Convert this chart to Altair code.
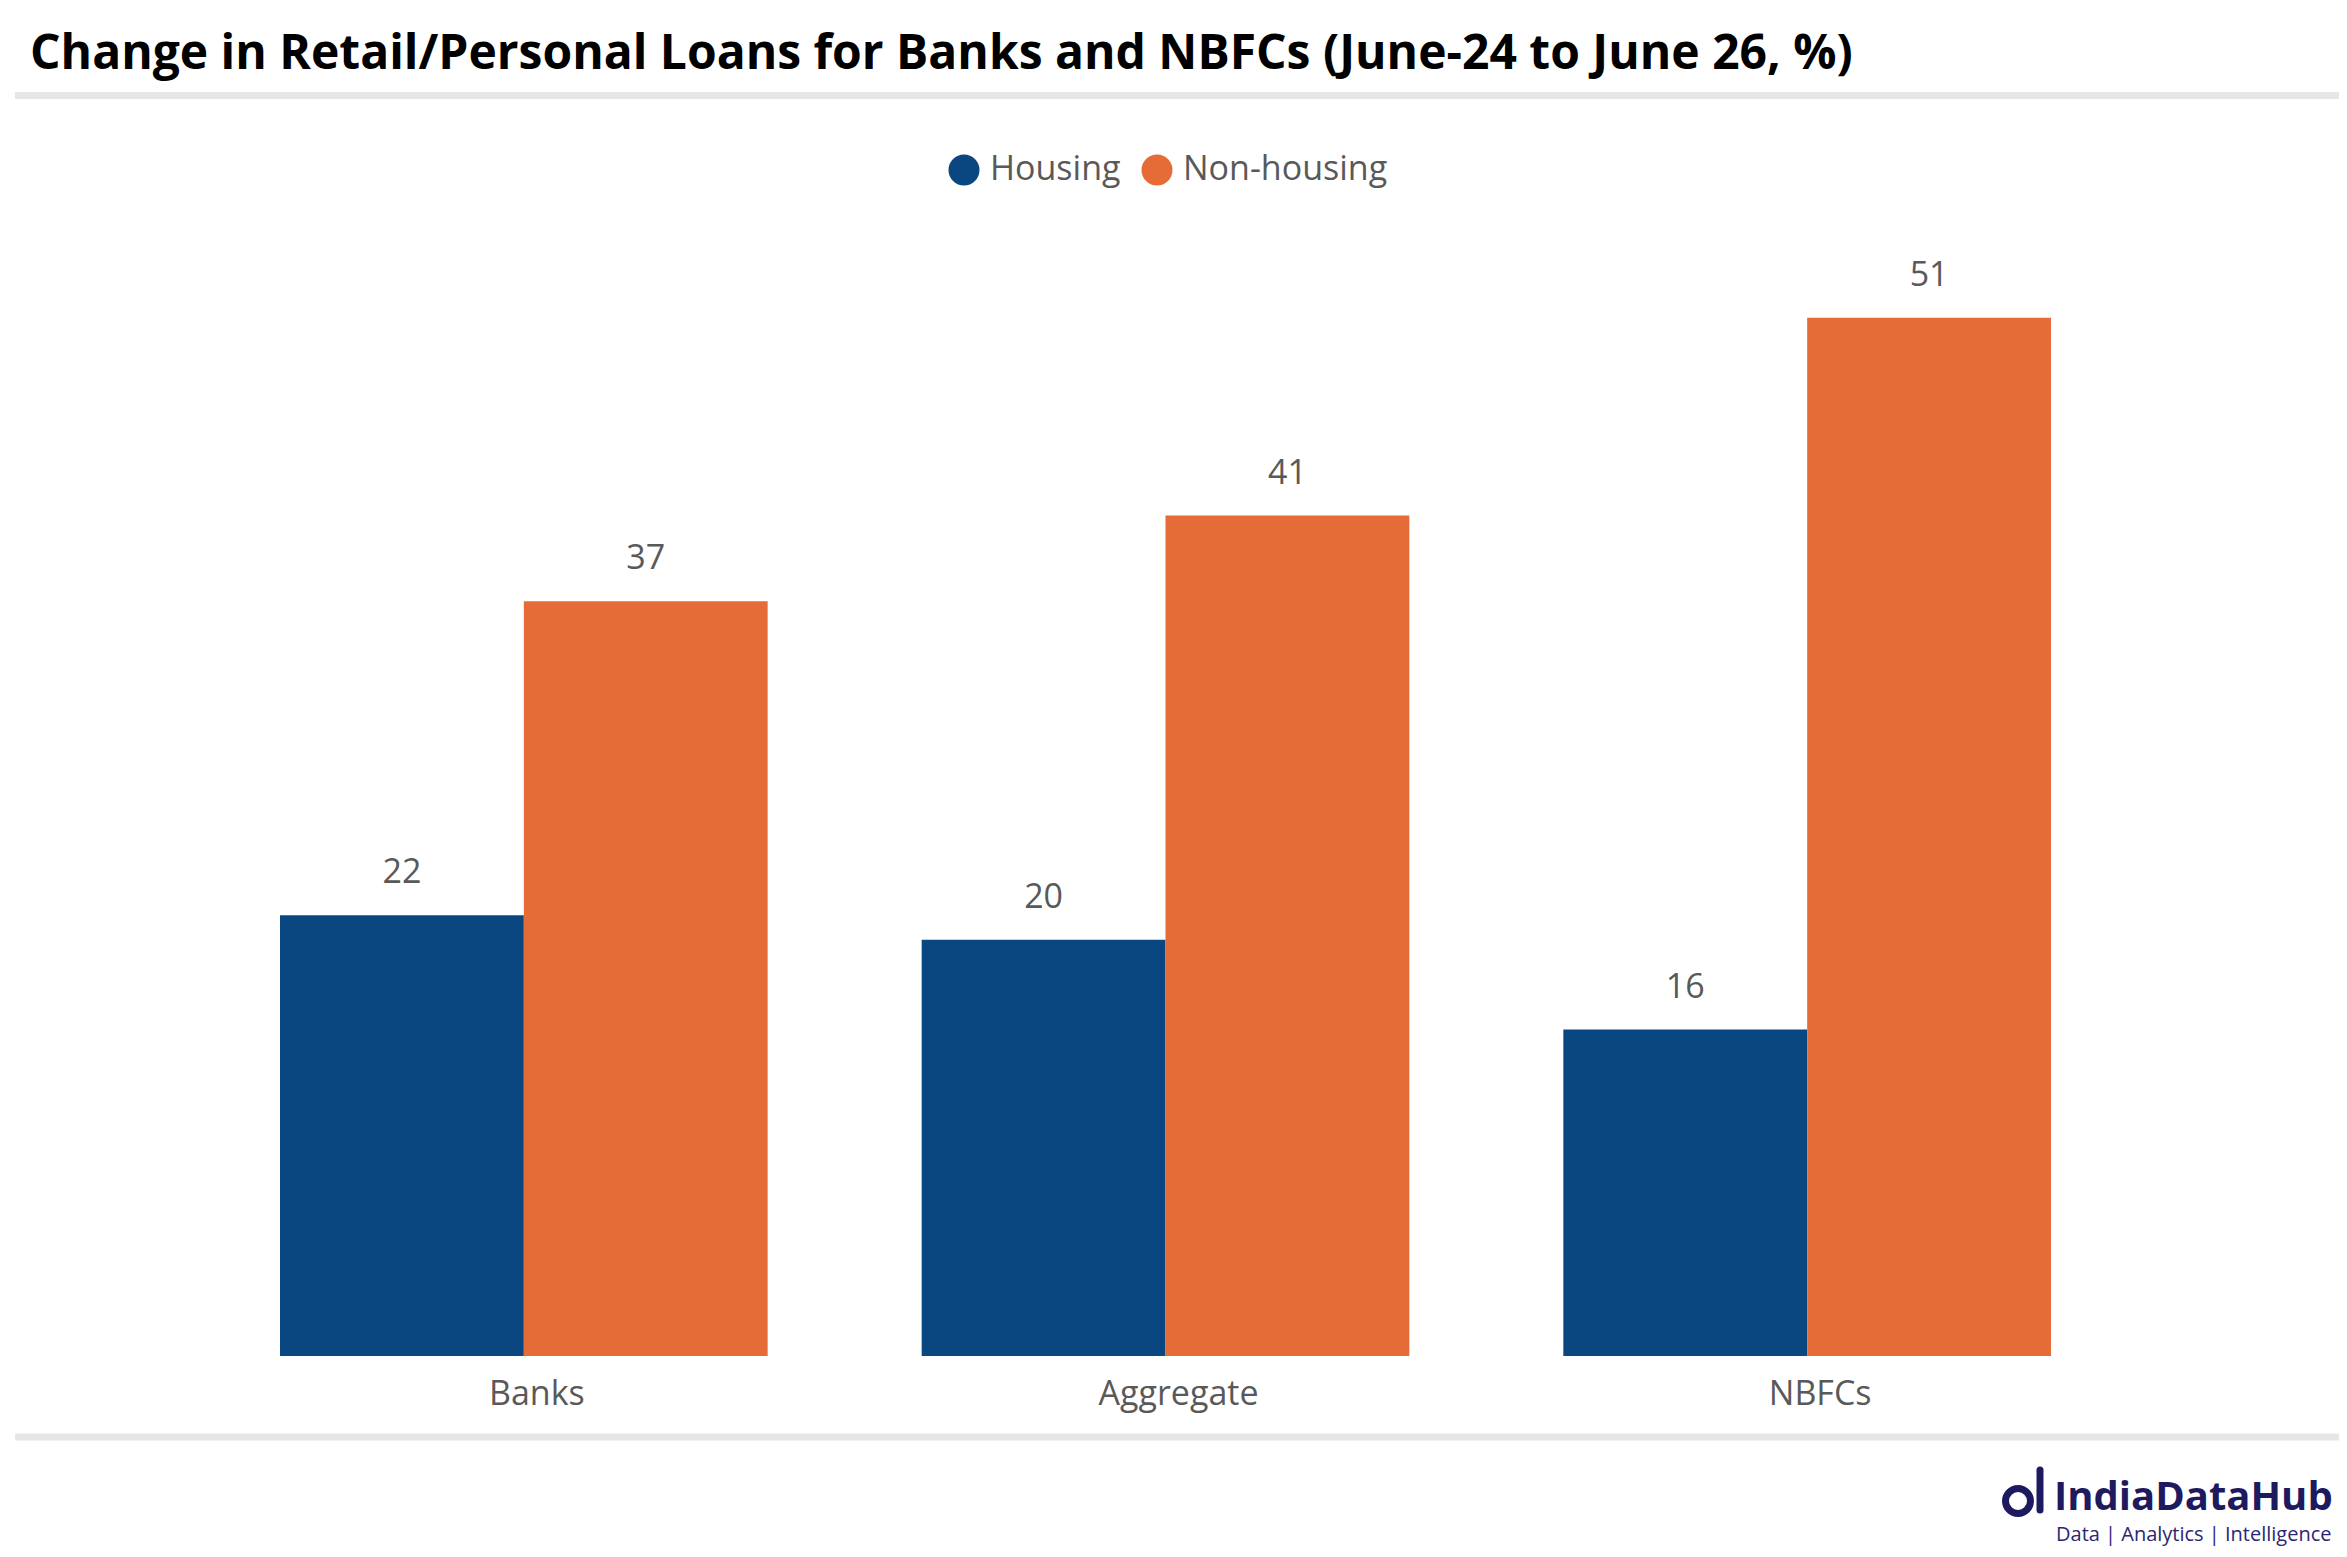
import altair as alt
import pandas as pd

categories = ["Banks", "Aggregate", "NBFCs"]
series = ["Housing", "Non-housing"]
housing = [21.6, 20.4, 16.0]
non_housing = [37.0, 41.2, 50.9]
colors = ["#0a4780", "#e56c37"]
title_text = "Change in Retail/Personal Loans for Banks and NBFCs (June-24 to June 26, %)"
brand = "IndiaDataHub"
tagline = "Data | Analytics | Intelligence"

rows = []
for c, h, n in zip(categories, housing, non_housing):
    rows.append({"category": c, "series": "Housing", "value": h})
    rows.append({"category": c, "series": "Non-housing", "value": n})
df = pd.DataFrame(rows)

W, H = 1925, 1122
FONT = "Open Sans"
GREY = "#595959"

base = alt.Chart(df).encode(
    x=alt.X(
        "category:N",
        sort=categories,
        scale=alt.Scale(paddingInner=0.24, paddingOuter=0.12),
        axis=alt.Axis(
            title=None, labelFontSize=34, labelColor=GREY, labelFont=FONT,
            ticks=False, tickSize=0, domain=False, labelPadding=38,
            labelBaseline="middle", labelAngle=0, grid=False, labelOffset=13,
        ),
    ),
    xOffset=alt.XOffset("series:N", sort=series),
)

bars = base.mark_bar().encode(
    y=alt.Y("value:Q", scale=alt.Scale(domain=[0, 55]), axis=None),
    color=alt.Color(
        "series:N",
        sort=series,
        scale=alt.Scale(domain=series, range=colors),
        legend=alt.Legend(
            orient="none", legendX=744, legendY=-81, direction="horizontal",
            title=None, symbolType="circle", symbolSize=961, symbolStrokeWidth=0,
            symbolOpacity=1, labelFontSize=34, labelFont=FONT, labelColor=GREY,
            labelOffset=9, columnPadding=19, padding=0, labelLimit=1000,
        ),
    ),
)

labels = base.mark_text(
    baseline="middle", dy=-42, fontSize=34, font=FONT, color=GREY
).encode(
    y=alt.Y("value:Q"),
    text=alt.Text("value:Q", format=".0f"),
)


def one(t):
    return alt.Chart(pd.DataFrame({"t": [t]}))


title = one(title_text).mark_text(
    align="left", baseline="alphabetic", fontSize=48, fontWeight="bold",
    font=FONT, color="#000000"
).encode(x=alt.value(-173), y=alt.value(-165), text="t:N")

rule_top = one("a").mark_rule(color="#e6e6e6", strokeWidth=7).encode(
    x=alt.value(-188), x2=alt.value(2137), y=alt.value(-138.5)
)
rule_bot = one("b").mark_rule(color="#e6e6e6", strokeWidth=7).encode(
    x=alt.value(-188), x2=alt.value(2137), y=alt.value(1203)
)

ring = one("r").mark_point(
    shape="circle", filled=False, strokeWidth=7, color="#1e1a5f", opacity=1
).encode(x=alt.value(1815), y=alt.value(1267), size=alt.value(625))
stem = one("s").mark_rule(color="#1e1a5f", strokeWidth=7, strokeCap="round").encode(
    x=alt.value(1837), y=alt.value(1236), y2=alt.value(1276)
)
brand_t = one(brand).mark_text(
    align="left", baseline="alphabetic", fontSize=40, fontWeight="bold",
    font=FONT, color="#1e1a5f"
).encode(x=alt.value(1851), y=alt.value(1276), text="t:N")
tag_t = one(tagline).mark_text(
    align="left", baseline="alphabetic", fontSize=20, font=FONT, color="#2b2672"
).encode(x=alt.value(1853), y=alt.value(1307), text="t:N")

chart = alt.layer(
    bars, labels, title, rule_top, rule_bot, ring, stem, brand_t, tag_t
).properties(
    width=W, height=H,
    padding={"left": 195, "top": 226, "right": 211, "bottom": 193},
    autosize=alt.AutoSizeParams(type="none"),
    background="white",
).configure_view(stroke=None)

chart.save("out.html", embed_options={"renderer": "svg", "actions": False})
